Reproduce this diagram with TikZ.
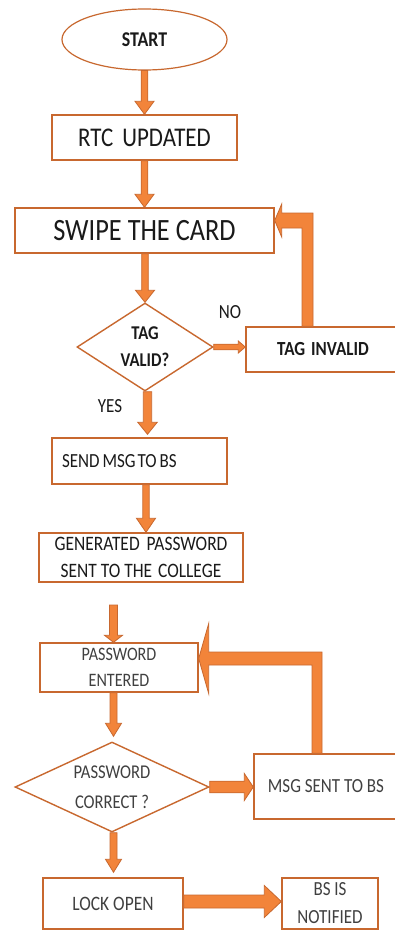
\documentclass[tikz,border=0pt]{standalone}
\usepackage{fontspec}
\setmainfont[FakeStretch=0.85]{Carlito}
\usetikzlibrary{shapes.geometric,calc}
\definecolor{boxline}{HTML}{C8682F}
\definecolor{arrfill}{HTML}{F2843A}
\definecolor{arrline}{HTML}{C8682F}
\definecolor{txtA}{HTML}{1A1A1A}
\definecolor{txtB}{HTML}{404040}
\tikzset{
  box/.style={draw=boxline, line width=1.4pt, rectangle, inner sep=0pt, align=center, text=txtA},
  decision/.style={draw=boxline, line width=1.4pt, diamond, inner sep=0pt, align=center, text=txtA},
  barrow/.style={fill=arrfill, draw=arrline, line width=0.8pt, line join=miter},
  lbl/.style={text=txtA, inner sep=0pt},
}
% vertical block arrow: from, to, shaft half width, head half width, head length
\newcommand\varr[5]{\filldraw[barrow] let \p1=(#1), \p2=(#2) in
  (\x2-#3,\y1) -- (\x2-#3,\y2+#5) -- (\x2-#4,\y2+#5) -- (\x2,\y2) --
  (\x2+#4,\y2+#5) -- (\x2+#3,\y2+#5) -- (\x2+#3,\y1) -- cycle;}
% horizontal block arrow (to the right)
\newcommand\harr[5]{\filldraw[barrow] let \p1=(#1), \p2=(#2) in
  (\x1,\y2-#3) -- (\x2-#5,\y2-#3) -- (\x2-#5,\y2-#4) -- (\x2,\y2) --
  (\x2-#5,\y2+#4) -- (\x2-#5,\y2+#3) -- (\x1,\y2+#3) -- cycle;}
\begin{document}
\begin{tikzpicture}[x=1pt,y=-1pt]
\useasboundingbox (0,0) rectangle (395,931);
\clip (0,0) rectangle (395,931);
\fill[white] (0,0) rectangle (395,931);

% upper nodes
\node[ellipse, draw=boxline, line width=1.2pt, minimum width=165, minimum height=61, inner sep=0pt,
      font=\bfseries\fontsize{21}{25}\selectfont, text=txtA] (start) at (144.5,39.5) {START};
\node[box, minimum width=185, minimum height=45, font=\fontsize{27}{32}\selectfont]
      (rtc) at (144.5,137.5) {RTC\hspace{9pt}UPDATED};
\node[box, minimum width=259, minimum height=45, font=\fontsize{31}{35}\selectfont]
      (swipe) at (144.5,230.5) {SWIPE THE CARD};
\node[decision, minimum width=136, minimum height=88, aspect=1.545,
      font=\bfseries\fontsize{19.5}{27}\selectfont] (tv) at (145,347) {TAG\\VALID?};
\node[box, minimum width=154, minimum height=45, font=\bfseries\fontsize{20}{24}\selectfont]
      (ti) at (323,349.5) {TAG\hspace{6pt}INVALID};
\node[lbl, font=\fontsize{20}{24}\selectfont] (no) at (230,312) {NO};
\node[lbl, font=\fontsize{20}{24}\selectfont] (yes) at (110,406) {YES};
\node[box, minimum width=175, minimum height=46, text width=155, align=left, inner xsep=10pt,
      font=\fontsize{20}{24}\selectfont] (send) at (139.5,461)
      {SEND\hspace{3pt}MSG\hspace{2pt}TO\hspace{3pt}BS};
\node[box, minimum width=204, minimum height=49, font=\fontsize{20.5}{27}\selectfont]
      (gen) at (141,557.5) {GENERATED\hspace{7pt}PASSWORD\\SENT TO THE\hspace{6pt}COLLEGE};

% lower nodes
\coordinate (f) at (113.5,605);
\node[box, text=txtB, minimum width=158, minimum height=49, font=\fontsize{19}{26}\selectfont]
      (pwent) at (119,667.5) {PASSWORD\\ENTERED};
\node[decision, text=txtB, minimum width=194, minimum height=90, aspect=2.16,
      font=\fontsize{19.5}{30}\selectfont] (pc) at (112,787) {PASSWORD\\CORRECT ?};
\node[box, text=txtB, minimum width=144, minimum height=65, font=\fontsize{20}{24}\selectfont]
      (msg) at (326,786.5) {MSG SENT TO BS};
\node[box, text=txtB, minimum width=140, minimum height=51, font=\fontsize{20.5}{24}\selectfont]
      (lock) at (113,903.5) {LOCK OPEN};
\node[box, text=txtB, minimum width=96, minimum height=51, font=\fontsize{20}{28}\selectfont]
      (bs) at (330,903.5) {BS IS\\NOTIFIED};

% connectors
\varr{start.south}{rtc.north}{3.3}{9.5}{13}
\varr{rtc.south}{swipe.north}{3.3}{9.5}{13}
\varr{swipe.south}{tv.north}{3.3}{9.5}{12}
\harr{tv.east}{tv.east -| ti.west}{2.8}{6}{7}
\varr{tv.south}{$(tv.south |- send.north)+(2.5,-3)$}{4.2}{9.7}{12}
\varr{send.south}{$(gen.north)+(5,0)$}{3.2}{9.5}{14}
\coordinate (c1) at (307.5,220.5);
\filldraw[barrow] let \p1=(c1), \p2=(ti.north), \p3=(swipe.east) in
  (\x1-5.5,\y2) -- (\x1-5.5,\y1-7.5) -- (\x3+7,\y1-7.5) -- (\x3+7,\y1-16.5) -- (\x3,\y1) --
  (\x3+7,\y1+16.5) -- (\x3+7,\y1+7.5) -- (\x1+5.5,\y1+7.5) -- (\x1+5.5,\y2) -- cycle;

\varr{f}{f |- pwent.north}{4}{9}{7}
\varr{pwent.south -| f}{$(f |- pc.north)+(0,-5)$}{3.5}{8}{13}
\varr{pc.south -| f}{$(f |- lock.north)+(0,-5)$}{3.5}{8}{13}
\harr{pc.east}{pc.east -| msg.west}{5.8}{13.5}{9}
\harr{lock.east}{$(lock.east -| bs.west)+(0,-2)$}{6.5}{16}{17}
\coordinate (c2) at (317,658.5);
\filldraw[barrow] let \p1=(c2), \p2=(msg.north), \p3=(pwent.east) in
  (\x1-5,\y2) -- (\x1-5,\y1-6.5) -- (\x3+10,\y1-6.5) -- (\x3+10,\y1-35) -- (\x3,\y1) --
  (\x3+10,\y1+35) -- (\x3+10,\y1+6.5) -- (\x1+5,\y1+6.5) -- (\x1+5,\y2) -- cycle;
\end{tikzpicture}
\end{document}
